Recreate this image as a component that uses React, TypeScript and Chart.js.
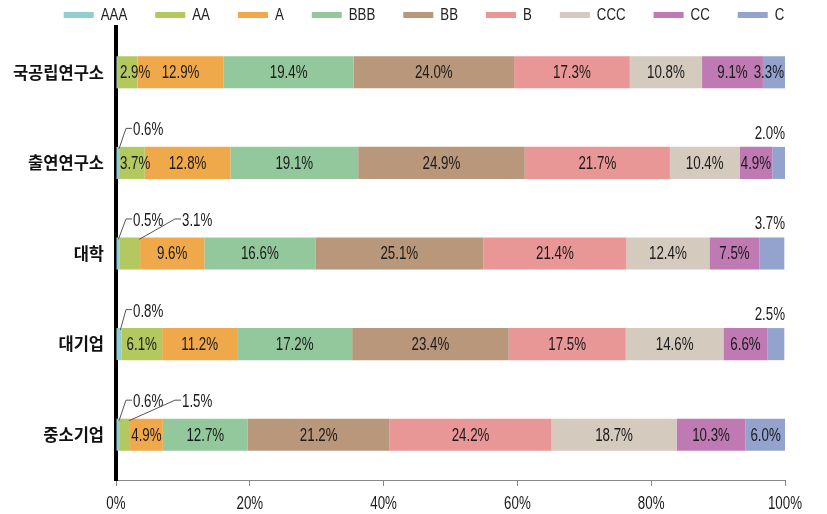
import React, { useEffect, useRef } from 'react';
import { Chart, registerables } from 'chart.js';

Chart.register(...registerables);

// ---- data ----
const categories = ['국공립연구소', '출연연구소', '대학', '대기업', '중소기업'];
const seriesNames = ['AAA', 'AA', 'A', 'BBB', 'BB', 'B', 'CCC', 'CC', 'C'];
const AAA = [0.3, 0.6, 0.5, 0.8, 0.6];
const AA = [2.9, 3.7, 3.1, 6.1, 1.5];
const A = [12.9, 12.8, 9.6, 11.2, 4.9];
const BBB = [19.4, 19.1, 16.6, 17.2, 12.7];
const BB = [24.0, 24.9, 25.1, 23.4, 21.2];
const B = [17.3, 21.7, 21.4, 17.5, 24.2];
const CCC = [10.8, 10.4, 12.4, 14.6, 18.7];
const CC = [9.1, 4.9, 7.5, 6.6, 10.3];
const C = [3.3, 2.0, 3.7, 2.5, 6.0];
const xTickValues = [0, 20, 40, 60, 80, 100];

// labels placed outside their segment: [series, category, slot]
const outsideLeft: [string, string, number][] = [
  ['AAA', '출연연구소', 0],
  ['AAA', '대학', 0],
  ['AA', '대학', 1],
  ['AAA', '대기업', 0],
  ['AAA', '중소기업', 0],
  ['AA', '중소기업', 1],
];
const outsideRight: [string, string][] = [
  ['C', '출연연구소'],
  ['C', '대학'],
  ['C', '대기업'],
];
const unlabeled: [string, string][] = [['AAA', '국공립연구소']];

const seriesValues = [AAA, AA, A, BBB, BB, B, CCC, CC, C];
const seriesColors = [
  '#92CDD0', '#B3C95F', '#F0A94A', '#93C89C', '#B9977A',
  '#E89696', '#D4CABE', '#BF7AB4', '#93A3CE',
];

const SANS = "'Liberation Sans', Arial, sans-serif";
const KR = "'Noto Sans CJK KR', sans-serif";

function narrowText(ctx: CanvasRenderingContext2D, text: string, x: number, y: number, align: CanvasTextAlign, scale: number) {
  ctx.save();
  ctx.translate(x, y);
  ctx.scale(scale, 1);
  ctx.textAlign = align;
  ctx.fillText(text, 0, 0);
  ctx.restore();
}

const legendPlugin = {
  id: 'narrowLegend',
  afterDraw(chart: any) {
    const ctx: CanvasRenderingContext2D = chart.ctx;
    const sc = 0.78;
    ctx.save();
    ctx.font = `17px ${SANS}`;
    ctx.textBaseline = 'middle';
    const items = chart.data.datasets.map((ds: any) => ({
      label: ds.label,
      color: ds.backgroundColor,
      tw: ctx.measureText(ds.label).width * sc,
    }));
    const gap = 28;
    const W = items.reduce((s: number, it: any) => s + 37 + it.tw, 0) + (items.length - 1) * gap;
    let x = 424 - W / 2;
    items.forEach((it: any) => {
      ctx.fillStyle = it.color;
      ctx.fillRect(x, 12, 30, 6);
      ctx.fillStyle = '#222';
      narrowText(ctx, it.label, x + 37, 15, 'left', sc);
      x += 37 + it.tw + gap;
    });
    ctx.restore();
  },
};

const xLabelPlugin = {
  id: 'narrowXLabels',
  afterDraw(chart: any) {
    const ctx: CanvasRenderingContext2D = chart.ctx;
    const xs = chart.scales.x;
    ctx.save();
    ctx.font = `18px ${SANS}`;
    ctx.fillStyle = '#1a1a1a';
    ctx.textBaseline = 'middle';
    xs.ticks.forEach((t: any) => {
      narrowText(ctx, t.value + '%', xs.getPixelForValue(t.value), xs.top + 24, 'center', 0.74);
    });
    ctx.restore();
  },
};

const segLabelPlugin = {
  id: 'segLabels',
  afterDatasetsDraw(chart: any) {
    const { ctx, chartArea } = chart;
    const sc = 0.74;
    ctx.save();
    ctx.font = `18px ${SANS}`;
    ctx.fillStyle = '#1a1a1a';
    ctx.textBaseline = 'middle';
    chart.data.datasets.forEach((ds: any, i: number) => {
      const meta = chart.getDatasetMeta(i);
      meta.data.forEach((el: any, j: number) => {
        const v = ds.data[j];
        if (!v) return;
        const cat = chart.data.labels[j];
        const find = (arr: any[]) => arr.find((a) => a[0] === ds.label && a[1] === cat);
        if (find(unlabeled)) return;
        const text = v.toFixed(1) + '%';
        const tw = ctx.measureText(text).width * sc;
        const { x, y, base, height } = el.getProps(['x', 'y', 'base', 'height'], true);
        const top = y - height / 2;
        const left = find(outsideLeft);
        const right = find(outsideRight);
        if (left) {
          const tx = chartArea.left + 17 + left[2] * 49;
          const ty = top - 16.5;
          ctx.strokeStyle = '#555';
          ctx.lineWidth = 1;
          ctx.beginPath();
          ctx.moveTo(x - 1, top + 2);
          ctx.lineTo(tx - 7, ty - 2);
          ctx.lineTo(tx - 1, ty - 2);
          ctx.stroke();
          narrowText(ctx, text, tx, ty, 'left', sc);
        } else if (right) {
          narrowText(ctx, text, chartArea.right, top - 13, 'right', sc);
        } else {
          let cx = (x + base) / 2;
          cx = Math.max(cx, chartArea.left + 4 + tw / 2);
          cx = Math.min(cx, chartArea.right - 1 - tw / 2);
          narrowText(ctx, text, cx, y + 1, 'center', sc);
        }
      });
    });
    ctx.restore();
  },
};

export default function App() {
  const canvasRef = useRef<HTMLCanvasElement | null>(null);

  useEffect(() => {
    if (!canvasRef.current) return;
    const chart = new Chart(canvasRef.current, {
      type: 'bar',
      data: {
        labels: categories,
        datasets: seriesNames.map((name, i) => ({
          label: name,
          data: seriesValues[i],
          backgroundColor: seriesColors[i],
          borderWidth: 0,
          barPercentage: 0.354,
          categoryPercentage: 1,
        })),
      },
      options: {
        indexAxis: 'y',
        animation: false,
        responsive: true,
        maintainAspectRatio: false,
        layout: { padding: { top: 27, right: 42, bottom: 0, left: 0 } },
        plugins: {
          legend: { display: false },
          tooltip: { enabled: false },
        },
        scales: {
          x: {
            stacked: true,
            min: 0,
            max: 100,
            afterFit: (s: any) => { s.height = 34; },
            afterBuildTicks: (s: any) => { s.ticks = xTickValues.map((v) => ({ value: v })); },
            grid: {
              display: true,
              drawOnChartArea: false,
              drawTicks: true,
              tickLength: 6,
              color: '#888',
            },
            border: { display: true, color: '#888', width: 1 },
            ticks: { display: false },
          },
          y: {
            stacked: true,
            z: 1,
            afterFit: (s: any) => { s.width = 116; },
            grid: { display: false, drawTicks: false },
            border: { display: true, color: '#000', width: 4 },
            ticks: {
              color: '#111',
              padding: 12,
              font: { family: KR, size: 16.5, weight: 'bold' },
            },
          },
        },
      },
      plugins: [segLabelPlugin, legendPlugin, xLabelPlugin],
    } as any);
    return () => chart.destroy();
  }, []);

  return (
    <div style={{ position: 'absolute', left: 0, top: 0, width: 827, height: 514, background: '#fff' }}>
      <canvas ref={canvasRef} />
    </div>
  );
}
